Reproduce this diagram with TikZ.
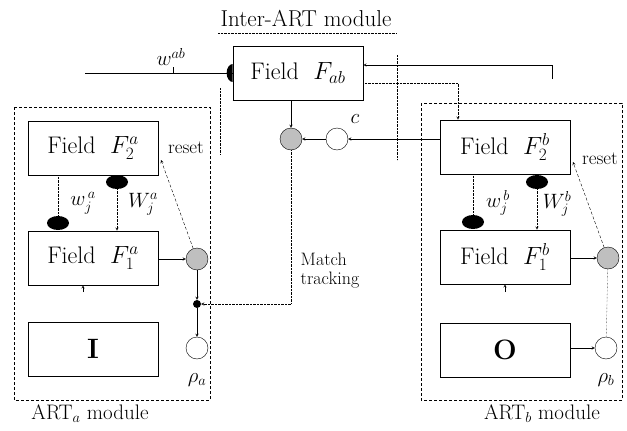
\documentclass[tikz,border=0pt]{standalone}
\usepackage{fontspec}
\usepackage{amssymb}
\usetikzlibrary{shapes}
\tikzset{
  fld/.style={draw, rectangle, line width=0.7pt, minimum width=130pt, minimum height=54pt, font=\fontsize{24}{26}\selectfont},
  gate/.style={draw, circle, fill=black!25, minimum size=22pt, inner sep=0pt},
  ring/.style={draw, circle, minimum size=22pt, inner sep=0pt},
  syn/.style={ellipse, fill=black, minimum width=22pt, minimum height=14pt, inner sep=0pt},
  modl/.style={densely dashed, line width=0.6pt},
  lbl/.style={inner sep=1pt, font=\fontsize{20}{22}\selectfont},
  sml/.style={inner sep=1pt, font=\fontsize{19}{20}\selectfont}
}
\begin{document}
\begin{tikzpicture}[x=1pt, y=-1pt, >=stealth]
\useasboundingbox (0,0) rectangle (627,431);
% module frames
\draw[modl] (14,107) rectangle (210,400);
\draw[modl] (421,103) rectangle (622,400);
\draw[densely dotted] (218,33) -- (397,33);
\draw[densely dotted] (220,88) -- (220,155);
\draw[densely dotted] (397,55) -- (397,160);
\node[font=\fontsize{23}{26}\selectfont] (tt) at (306,19) {Inter-ART module};
\node[font=\fontsize{21}{24}\selectfont] (la) at (90,414) {ART$_a$ module};
\node[font=\fontsize{21}{24}\selectfont] (lb) at (542,414) {ART$_b$ module};

% fields
\node[fld] (fab) at (298,73) {Field~~$F_{ab}$};
\node[fld] (f2a) at (93,148) {Field~~$F_2^a$};
\node[fld] (f1a) at (93,258) {Field~~$F_1^a$};
\node[fld, font=\fontsize{28}{30}\selectfont] (in) at (93,349) {\textbf{I}};
\node[fld] (f2b) at (505,147) {Field~~$F_2^b$};
\node[fld] (f1b) at (505,257) {Field~~$F_1^b$};
\node[fld, font=\fontsize{28}{30}\selectfont] (out) at (505,350) {\textbf{O}};

% gates
\node[gate] (ga) at (197,259) {};
\node[ring] (ra) at (197,348) {};
\node[gate] (gab) at (291,139) {};
\node[ring] (c) at (337,139) {};
\node[gate] (gb) at (608,258) {};
\node[ring] (rb) at (606,348) {};
\node[fill, circle, inner sep=0pt, minimum size=8pt] (jn) at (197,304) {};

% weights
\node[syn] (s2a) at (117,182) {};
\node[syn] (s1a) at (58,223) {};
\node[syn] (s2b) at (537,182) {};
\node[syn] (s1b) at (473,222) {};
\draw[->, densely dotted] (s2a) -- (s2a |- f1a.north);
\draw[densely dotted] (f2a.south -| s1a) -- (s1a);
\draw[->, densely dotted] (s2b) -- (s2b |- f1b.north);
\draw[densely dotted] (f2b.south -| s1b) -- (s1b);
\node[lbl] (wa) at (83,203) {$w_j^{\,a}$};
\node[lbl] (Wa) at (143,204) {$W_j^a$};
\node[lbl] (wb) at (498,203) {$w_j^{\,b}$};
\node[lbl] (Wb) at (557,204) {$W_j^b$};

% labels
\node[sml] (rsa) at (186,148) {reset};
\node[sml] (rsb) at (600,159) {reset};
\node[lbl] (lc) at (355,119) {$c$};
\node[lbl] (lwab) at (171,57) {$w^{ab}$};
\node[lbl] (lra) at (197,380) {$\rho_a$};
\node[lbl] (lrb) at (606,380) {$\rho_b$};
\node[font=\fontsize{18}{19}\selectfont, align=left] (mt) at (330,271) {Match\\tracking};

% input to F_ab
\coordinate (wl) at (85,73);
\coordinate (wt) at (173,67);
\draw (wl) -- (fab.west);
\draw (wt) -- (wt |- wl);
\fill (fab.west) ++(0pt,9pt) arc[start angle=90, end angle=270, x radius=6pt, y radius=9pt] -- cycle;
\draw[line width=1.2pt] (fab.south west) -- (fab.south east);

% F_ab links to ART_b
\coordinate (fr1) at (552,65);
\coordinate (ft) at (552,79);
\coordinate (fr2) at (458,83);
\draw[->] (ft) -- (fr1) -- (fab.east |- fr1);
\draw[->, densely dotted] (fab.east |- fr2) -- (fr2) -- (fr2 |- f2b.north);

% map field
\draw[->] (fab.south -| gab) -- (gab);
\draw[->] (c) -- (gab);
\draw[->] (f2b.west |- c) -- (c);
\draw[->, densely dotted] (gab) -- (gab |- jn) -- (jn);

% ART_a
\coordinate (rta) at (161,160);
\coordinate (ia) at (83,292);
\draw[->] (f1a.east |- ga) -- (ga);
\draw[->, densely dashed] (ga) -- (rta);
\draw[->] (ga) -- (jn);
\draw[->] (jn) -- (ra);
\draw[->] (ia) -- (ia |- f1a.south);

% ART_b
\coordinate (rtb) at (573,162);
\coordinate (ib) at (505,292);
\draw[->] (f1b.east |- gb) -- (gb);
\draw[->, densely dashed] (gb) -- (rtb);
\draw[->] (out.east |- rb) -- (rb);
\draw[densely dotted] (gb) -- (rb);
\draw[->] (ib) -- (ib |- f1b.south);
\end{tikzpicture}
\end{document}
